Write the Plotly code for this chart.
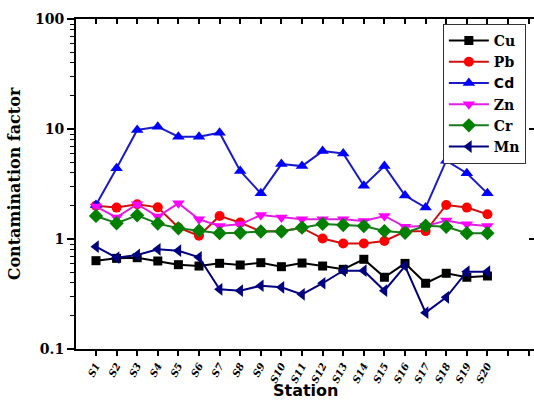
import plotly.graph_objects as go

stations = [f"S{i}" for i in range(1, 21)]
x_pos = list(range(1, 21))

cu = [0.635, 0.667, 0.676, 0.631, 0.584, 0.568, 0.601, 0.58, 0.609, 0.56,
      0.605, 0.568, 0.53, 0.654, 0.449, 0.60, 0.396, 0.488, 0.449, 0.461]
pb = [2.01, 1.93, 2.07, 1.94, 1.27, 1.07, 1.62, 1.41, 1.17, 1.18,
      1.26, 1.01, 0.91, 0.91, 0.96, 1.17, 1.18, 2.04, 1.93, 1.68]
cd = [2.04, 4.4, 9.8, 10.5, 8.5, 8.5, 9.25, 4.15, 2.6, 4.8,
      4.6, 6.3, 6.0, 3.05, 4.6, 2.48, 1.93, 5.15, 3.96, 2.6]
zn = [1.97, 1.57, 2.07, 1.6, 2.11, 1.51, 1.31, 1.36, 1.65, 1.57,
      1.51, 1.51, 1.51, 1.46, 1.62, 1.29, 1.31, 1.47, 1.36, 1.31]
cr = [1.62, 1.39, 1.64, 1.38, 1.25, 1.19, 1.13, 1.14, 1.17, 1.17,
      1.27, 1.37, 1.34, 1.31, 1.18, 1.14, 1.32, 1.29, 1.13, 1.13]
mn = [0.851, 0.676, 0.716, 0.806, 0.783, 0.682, 0.349, 0.339, 0.376, 0.364,
      0.314, 0.396, 0.515, 0.515, 0.339, 0.568, 0.214, 0.295, 0.505, 0.505]

series = [
    ("Cu", cu, "#000000", "#000000", "square", 9),
    ("Pb", pb, "#d01010", "#ff0000", "circle", 10),
    ("<span style='font-family:DejaVu Sans'>Cd</span>", cd, "#1a1acc", "#0000ff", "triangle-up", 11),
    ("Zn", zn, "#e020e0", "#ff00ff", "triangle-down", 11),
    ("Cr", cr, "#1a7a1a", "#008000", "diamond", 11),
    ("Mn", mn, "#000080", "#000080", "triangle-left", 11),
]

fig = go.Figure()
for name, vals, lc, mc, sym, sz in series:
    fig.add_trace(go.Scatter(
        x=x_pos, y=vals, name=name, mode="lines+markers",
        line=dict(color=lc, width=2),
        marker=dict(symbol=sym, size=sz, color=mc, line=dict(width=0)),
    ))

fig.add_trace(go.Scatter(x=[1], y=[1], xaxis="x2", yaxis="y2", mode="markers",
                         marker=dict(opacity=0), showlegend=False, hoverinfo="skip"))

serif = "DejaVu Serif"
sans = "DejaVu Sans"
xr = [0.03, 22.26]
yr = [-1, 2]

fig.update_layout(
    width=534, height=401,
    margin=dict(l=76, r=0, t=19, b=52),
    paper_bgcolor="white", plot_bgcolor="white",
    showlegend=True,
    legend=dict(
        x=0.801, y=0.985, xanchor="left", yanchor="top",
        bgcolor="white", bordercolor="#333333", borderwidth=1,
        font=dict(family=serif, size=14, color="black", weight="bold"),
        itemwidth=40, tracegroupgap=0,
    ),
    xaxis=dict(
        range=xr, tickmode="array",
        tickvals=list(range(1, 23)),
        ticktext=stations + ["", ""],
        tickangle=-62, ticks="outside", ticklen=5, tickwidth=1.5, tickcolor="black",
        showline=True, linecolor="black", linewidth=2,
        showgrid=False, zeroline=False, automargin=False,
        tickfont=dict(family=serif, size=10, color="black", weight="bold", style="italic"),
    ),
    xaxis2=dict(
        range=xr, overlaying="x", side="top", tickmode="array",
        tickvals=list(range(1, 23)), ticks="inside", ticklen=5, tickwidth=1.5,
        tickcolor="black", showticklabels=False, showline=True, linecolor="black",
        linewidth=2, showgrid=False, zeroline=False, automargin=False,
    ),
    yaxis=dict(
        type="log", range=yr, tickmode="array",
        tickvals=[0.1, 1, 10, 100], ticktext=["0.1", "1", "10", "100"],
        ticks="outside", ticklen=7, tickwidth=1.5, tickcolor="black",
        minor=dict(ticks="outside", ticklen=4, tickwidth=1.2, tickcolor="black",
                   tickvals=[v * d for d in (0.1, 1, 10) for v in range(2, 10)], showgrid=False),
        showline=True, linecolor="black", linewidth=2,
        showgrid=False, zeroline=False, automargin=False,
        tickfont=dict(family=serif, size=14, color="black", weight="bold"),
        title=dict(text="Contamination factor", font=dict(family=serif, size=16, color="black", weight="bold"), standoff=10),
    ),
    yaxis2=dict(
        type="log", range=yr, overlaying="y", side="right", tickmode="array",
        tickvals=[0.1, 1, 10, 100], ticks="inside", ticklen=5, tickwidth=1.5,
        tickcolor="black", showticklabels=False, showline=False,
        showgrid=False, zeroline=False, automargin=False,
    ),
    annotations=[dict(
        text="Station", xref="paper", yref="paper", x=0.5, y=-0.092,
        xanchor="center", yanchor="top", showarrow=False,
        font=dict(family=sans, size=16, color="black", weight="bold"),
    )],
)

fig.write_html("out.html")
